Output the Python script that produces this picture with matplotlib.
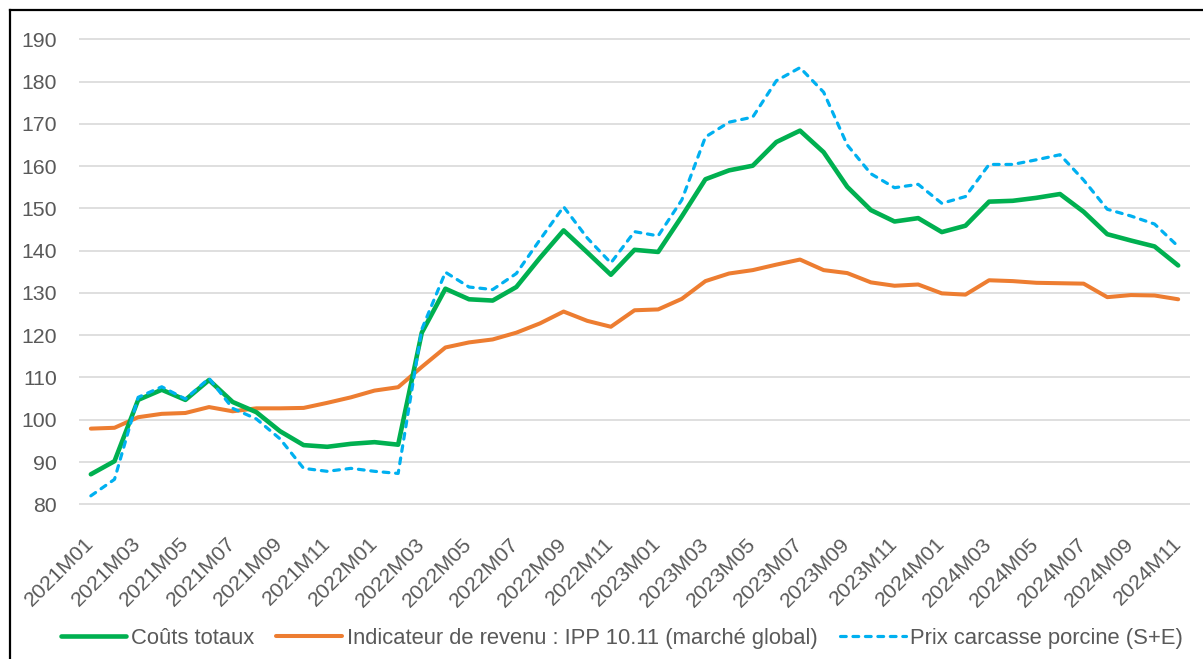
import matplotlib
matplotlib.use("Agg")
import matplotlib.pyplot as plt
from matplotlib.lines import Line2D

plt.rcParams['font.family'] = ['Liberation Sans', 'DejaVu Sans']

# months 2021M01 .. 2024M11
months = [f"{y}M{m:02d}" for y in range(2021, 2025) for m in range(1, 13)][:47]

couts_totaux = [
    87.1, 90.2, 104.7, 107.1, 104.7, 109.4, 104.2, 101.8, 97.3, 94.0, 93.6, 94.3,
    94.7, 94.1, 120.6, 131.0, 128.5, 128.2, 131.4, 138.3, 144.8, 139.6, 134.3, 140.2,
    139.7, 148.1, 156.9, 159.0, 160.1, 165.7, 168.4, 163.3, 155.1, 149.6, 146.9, 147.7,
    144.4, 145.9, 151.6, 151.8, 152.5, 153.4, 149.2, 143.9, 142.4, 141.0, 136.5,
]
ipp_revenu = [
    97.9, 98.1, 100.6, 101.4, 101.6, 103.0, 102.0, 102.7, 102.7, 102.8, 104.0, 105.3,
    106.9, 107.7, 112.5, 117.1, 118.3, 119.0, 120.6, 122.8, 125.6, 123.4, 122.0, 125.9,
    126.1, 128.6, 132.8, 134.6, 135.4, 136.7, 137.9, 135.4, 134.7, 132.5, 131.7, 132.0,
    129.9, 129.6, 133.0, 132.8, 132.4, 132.3, 132.2, 129.0, 129.5, 129.4, 128.5,
]
prix_carcasse = [
    82.0, 85.9, 105.3, 107.8, 104.9, 109.8, 102.7, 100.2, 95.5, 88.5, 87.8, 88.5,
    87.8, 87.3, 121.4, 134.9, 131.4, 130.8, 134.6, 142.6, 150.4, 143.0, 137.1, 144.5,
    143.5, 152.0, 166.9, 170.4, 171.6, 180.2, 183.3, 177.5, 165.0, 158.2, 154.9, 155.7,
    151.2, 152.8, 160.4, 160.4, 161.5, 162.7, 156.7, 149.8, 148.2, 146.3, 141.0,
]

GREEN = '#00B050'
ORANGE = '#ED7D31'
BLUE = '#00B0F0'
TXT = '#595959'

fig = plt.figure(figsize=(12.03, 6.59), dpi=100)
ax = fig.add_axes([0.0657, 0.2322, 0.9235, 0.7094])

x = list(range(len(months)))
ax.plot(x, couts_totaux, color=GREEN, lw=3.3, solid_joinstyle='round',
        solid_capstyle='round', label='Coûts totaux', zorder=3)
ax.plot(x, ipp_revenu, color=ORANGE, lw=2.9, solid_joinstyle='round',
        solid_capstyle='round',
        label='Indicateur de revenu : IPP 10.11 (marché global)', zorder=2)
ax.plot(x, prix_carcasse, color=BLUE, lw=2.3, dashes=(1.8, 2.1),
        dash_capstyle='round', label='Prix carcasse porcine (S+E)', zorder=4)

ax.set_xlim(-0.5, len(months) - 0.5)
ax.set_yticks(range(80, 191, 10))
ax.set_xticks(x[::2])
ax.set_xticklabels(months[::2], rotation=45, ha='right', va='center',
                   rotation_mode='anchor')
ax.grid(axis='y', color='#D9D9D9', lw=1.2)
ax.set_axisbelow(True)
for s in ax.spines.values():
    s.set_visible(False)
ax.tick_params(axis='y', length=0, pad=16, labelsize=15.3, labelcolor=TXT)
ax.tick_params(axis='x', length=0, pad=25, labelsize=15.3, labelcolor=TXT)
ax.set_ylim(79.6, 190.2)

leg = fig.legend(loc='center', bbox_to_anchor=(0.517, 0.031), ncol=3,
                 frameon=False, fontsize=15.8, handlelength=3.0,
                 handletextpad=0.22, columnspacing=1.0, labelcolor=TXT)

# outer chart frame (cut off at right and bottom)
fig.add_artist(Line2D([0.0083, 0.0083], [0.0, 0.9845], transform=fig.transFigure,
                      color='black', lw=1.6))
fig.add_artist(Line2D([0.0083, 1.0], [0.9845, 0.9845], transform=fig.transFigure,
                      color='black', lw=1.6))

fig.savefig('out.png', dpi=100)
